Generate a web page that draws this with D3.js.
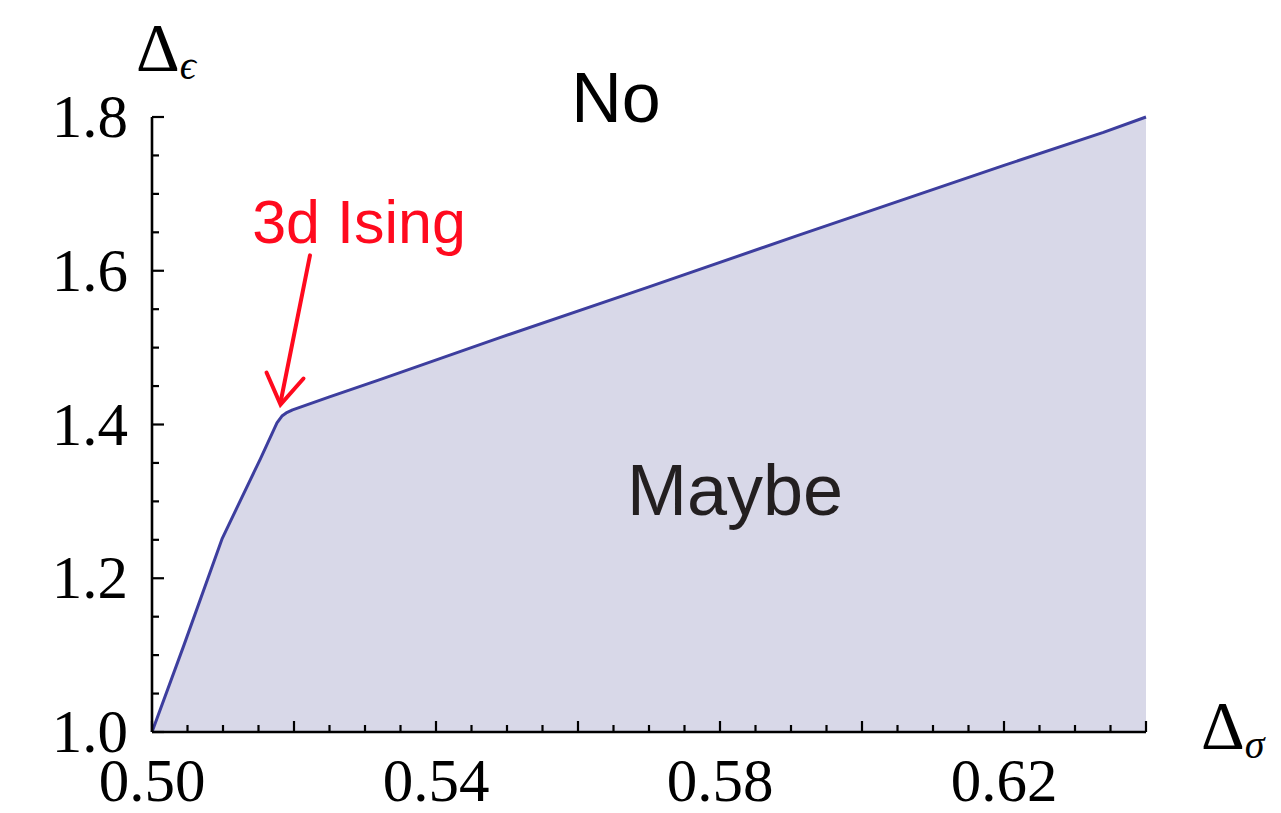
<!DOCTYPE html>
<html>
<head>
<meta charset="utf-8">
<script src="https://cdn.jsdelivr.net/npm/d3@7"></script>
<style>
  body { margin: 0; background: #fff; }
  svg { display: block; }
  .tick-label { font-family: "Liberation Serif", "DejaVu Serif", serif; font-size: 61px; fill: #000; }
  .axis-sym { font-family: "Liberation Serif", "DejaVu Serif", serif; fill: #000; }
  .region { font-family: "Liberation Sans", Arial, sans-serif; }
</style>
</head>
<body>
<svg id="chart" width="1281" height="813"></svg>
<script>
// boundary of the allowed region (Delta_sigma, Delta_epsilon)
var sigmaVals = [0.500, 0.5045, 0.5099, 0.5153, 0.5176, 0.5183, 0.5189, 0.5198, 0.525, 0.532, 0.549, 0.570, 0.591, 0.620, 0.634, 0.640];
var epsVals   = [1.000, 1.113,  1.252,  1.356,  1.402,  1.411,  1.415,  1.419,  1.436, 1.458, 1.513, 1.579, 1.646, 1.737, 1.780, 1.800];

var xTickLabels = [0.50, 0.54, 0.58, 0.62];
var yTickLabels = [1.0, 1.2, 1.4, 1.6, 1.8];

var svg = d3.select("#chart");

var x = d3.scaleLinear().domain([0.50, 0.64]).range([152, 1146]);
var y = d3.scaleLinear().domain([1.0, 1.8]).range([732, 117]);

var pts = sigmaVals.map(function(s, i) { return [s, epsVals[i]]; });

// shaded "maybe" region
var area = d3.area()
    .x(function(d) { return x(d[0]); })
    .y0(y(1.0))
    .y1(function(d) { return y(d[1]); });

svg.append("path")
    .datum(pts)
    .attr("d", area)
    .attr("fill", "#d8d8e8");

var line = d3.line()
    .x(function(d) { return x(d[0]); })
    .y(function(d) { return y(d[1]); });

svg.append("path")
    .datum(pts)
    .attr("d", line)
    .attr("fill", "none")
    .attr("stroke", "#3d3e9e")
    .attr("stroke-width", 3)
    .attr("stroke-linejoin", "round");

// axes: ticks point inward, minor every 0.005 / 0.05
var xAxis = svg.append("g").attr("transform", "translate(0," + y(1.0) + ")");
xAxis.append("line")
    .attr("x1", x(0.50)).attr("x2", x(0.64))
    .attr("stroke", "#000").attr("stroke-width", 2.6);
var xMinor = d3.range(0, 29).map(function(i) { return 0.50 + i * 0.005; });
xAxis.selectAll(".xt").data(xMinor).enter().append("line")
    .attr("x1", function(d) { return x(d); })
    .attr("x2", function(d) { return x(d); })
    .attr("y1", 0)
    .attr("y2", function(d, i) { return i % 4 == 0 ? -11 : -7; })
    .attr("stroke", "#000").attr("stroke-width", 2.2);
xAxis.selectAll(".xl").data(xTickLabels).enter().append("text")
    .attr("class", "tick-label")
    .attr("x", function(d) { return x(d); })
    .attr("y", 69)
    .attr("text-anchor", "middle")
    .text(function(d) { return d.toFixed(2); });

var yAxis = svg.append("g").attr("transform", "translate(" + x(0.50) + ",0)");
yAxis.append("line")
    .attr("y1", y(1.0)).attr("y2", y(1.8))
    .attr("stroke", "#000").attr("stroke-width", 2.6);
var yMinor = d3.range(0, 17).map(function(i) { return 1.0 + i * 0.05; });
yAxis.selectAll(".yt").data(yMinor).enter().append("line")
    .attr("y1", function(d) { return y(d); })
    .attr("y2", function(d) { return y(d); })
    .attr("x1", 0)
    .attr("x2", function(d, i) { return i % 4 == 0 ? 12 : 7; })
    .attr("stroke", "#000").attr("stroke-width", 2.2);
yAxis.selectAll(".yl").data(yTickLabels).enter().append("text")
    .attr("class", "tick-label")
    .attr("x", -24)
    .attr("y", function(d) { return y(d) + 20; })
    .attr("text-anchor", "end")
    .text(function(d) { return d.toFixed(1); });

// axis symbols
var ylab = svg.append("text").attr("class", "axis-sym").attr("x", 136).attr("y", 70);
ylab.append("tspan").attr("font-size", 68).text("Δ");
ylab.append("tspan").attr("font-size", 40).attr("font-style", "italic").attr("dy", 9).text("ϵ");

var xlab = svg.append("text").attr("class", "axis-sym").attr("x", 1201).attr("y", 748);
xlab.append("tspan").attr("font-size", 68).text("Δ");
xlab.append("tspan").attr("font-size", 40).attr("font-style", "italic").attr("dy", 10).text("σ");

// region labels
svg.append("text").attr("class", "region")
    .attr("x", 616).attr("y", 122)
    .attr("text-anchor", "middle")
    .attr("font-size", 70)
    .attr("fill", "#000")
    .text("No");

svg.append("text").attr("class", "region")
    .attr("x", 735).attr("y", 515)
    .attr("text-anchor", "middle")
    .attr("font-size", 72)
    .attr("fill", "#231f20")
    .text("Maybe");

// 3d Ising annotation
svg.append("text").attr("class", "region")
    .attr("x", 359).attr("y", 243)
    .attr("text-anchor", "middle")
    .attr("font-size", 61)
    .attr("fill", "#ff0a1e")
    .text("3d Ising");

var tip = [x(0.5181), y(1.426)];
var tail = [x(0.52225), y(1.62)];
svg.append("line")
    .attr("x1", tail[0]).attr("y1", tail[1])
    .attr("x2", tip[0]).attr("y2", tip[1] - 2)
    .attr("stroke", "#ff0a1e").attr("stroke-width", 4)
    .attr("stroke-linecap", "round");
svg.append("path")
    .attr("d", "M" + (tip[0] - 14) + "," + (tip[1] - 32) + "L" + tip[0] + "," + tip[1] + "L" + (tip[0] + 23) + "," + (tip[1] - 26))
    .attr("fill", "none")
    .attr("stroke", "#ff0a1e").attr("stroke-width", 4)
    .attr("stroke-linecap", "round").attr("stroke-linejoin", "miter");
</script>
</body>
</html>
